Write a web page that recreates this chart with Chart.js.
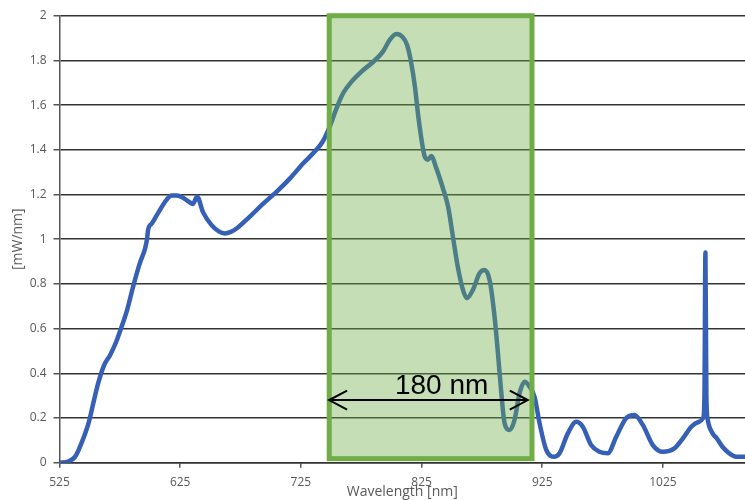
<!DOCTYPE html>
<html>
<head>
<meta charset="utf-8">
<script src="https://cdn.jsdelivr.net/npm/chart.js@4/dist/chart.umd.min.js"></script>
<style>
  body { margin: 0; background: #ffffff; }
  canvas { display: block; }
</style>
</head>
<body>
<canvas id="grafica" width="745" height="500"></canvas>
<script>
const longitudOnda = [
  525, 532, 538, 543, 549, 553, 557, 562, 567, 572, 576.5, 581, 586, 591.5, 596, 597.5, 598.5,
  601.5, 607, 613.5, 618, 622, 627, 632, 635.5, 639, 644, 651, 657, 662, 667, 672, 682.5, 694,
  705, 716, 727, 736.5, 743, 749, 754.5, 760, 767, 775, 785, 793, 798.5, 804, 809, 813, 816.5,
  819.5, 822, 825, 827.5, 830.3, 833, 837.2, 842.7, 847, 851, 855, 859.3, 862.6, 867.5, 873,
  877.2, 881.4, 885.5, 888.3, 891.1, 893.8, 898, 902, 906.2, 910.4, 914.5, 918.6, 922.8, 928.3,
  935.2, 939.3, 946.2, 953.1, 958.6, 965.5, 972.4, 979.3, 986.3, 994.5, 1001.4, 1008.3, 1016.6,
  1024.8, 1034.5, 1042, 1048.5, 1055, 1058.3, 1059.4, 1060.2, 1061, 1062.2, 1066.2, 1069.5,
  1074.5, 1080, 1085.6, 1093
];
const potencia = [
  0, 0.005, 0.027, 0.085, 0.176, 0.266, 0.355, 0.437, 0.482, 0.541, 0.609, 0.683, 0.788, 0.892, 0.96, 1.0, 1.045,
  1.07, 1.12, 1.175, 1.195, 1.195, 1.187, 1.168, 1.158, 1.19, 1.12, 1.063, 1.035, 1.026, 1.033, 1.049, 1.10, 1.16,
  1.213, 1.272, 1.34, 1.392, 1.436, 1.505, 1.585, 1.653, 1.705, 1.749, 1.794, 1.839, 1.891, 1.918, 1.906, 1.869, 1.787,
  1.682, 1.563, 1.444, 1.372, 1.356, 1.372, 1.318, 1.228, 1.145, 1.011, 0.877, 0.773, 0.736, 0.773, 0.847,
  0.862, 0.817, 0.653, 0.489, 0.311, 0.176, 0.146, 0.191, 0.311, 0.362, 0.34, 0.295, 0.176, 0.057,
  0.027, 0.042, 0.131, 0.183, 0.161, 0.079, 0.049, 0.042, 0.116, 0.199, 0.213, 0.169, 0.079,
  0.049, 0.064, 0.112, 0.161, 0.183, 0.2, 0.3, 0.94, 0.3, 0.19, 0.131, 0.11,
  0.07, 0.042, 0.027, 0.027
];
const ticksX = [525, 625, 725, 825, 925, 1025];
const ticksY = ['0', '0.2', '0.4', '0.6', '0.8', '1', '1.2', '1.4', '1.6', '1.8', '2'];

// Banda resaltada (en unidades de datos)
const bandaInicio = 748.5, bandaFin = 916.5;
const bandaArriba = 2.0, bandaAbajo = 0.018;
const flechaY = 0.28, flechaInicio = 748.4, flechaFin = 913;
const textoBanda = '180 nm';
const textoX = 841.6, textoY = 0.307;

// Plugin para dibujar la banda verde, la flecha y el texto
const pluginBanda = {
  id: 'banda',
  afterDatasetsDraw(chart) {
    const ctx = chart.ctx;
    const sx = chart.scales.x, sy = chart.scales.y;
    const x1 = sx.getPixelForValue(bandaInicio), x2 = sx.getPixelForValue(bandaFin);
    const y1 = sy.getPixelForValue(bandaArriba), y2 = sy.getPixelForValue(bandaAbajo);
    ctx.save();
    ctx.fillStyle = 'rgba(112, 173, 71, 0.4)';
    ctx.fillRect(x1, y1, x2 - x1, y2 - y1);
    ctx.strokeStyle = '#70ad47';
    ctx.lineWidth = 5;
    ctx.strokeRect(x1, y1, x2 - x1, y2 - y1);

    // flecha doble
    const ay = sy.getPixelForValue(flechaY);
    const ax1 = sx.getPixelForValue(flechaInicio), ax2 = sx.getPixelForValue(flechaFin);
    ctx.strokeStyle = '#000000';
    ctx.lineWidth = 2;
    ctx.beginPath();
    ctx.moveTo(ax1, ay); ctx.lineTo(ax2, ay);
    ctx.moveTo(ax1 + 18, ay - 9.5); ctx.lineTo(ax1, ay); ctx.lineTo(ax1 + 18, ay + 9.5);
    ctx.moveTo(ax2 - 18, ay - 9.5); ctx.lineTo(ax2, ay); ctx.lineTo(ax2 - 18, ay + 9.5);
    ctx.stroke();

    ctx.fillStyle = '#000000';
    ctx.font = '28px "Liberation Sans", Arial, sans-serif';
    ctx.textAlign = 'center';
    ctx.textBaseline = 'alphabetic';
    ctx.fillText(textoBanda, sx.getPixelForValue(textoX), sy.getPixelForValue(textoY));
    ctx.restore();
  }
};

const puntos = longitudOnda.map((x, i) => ({ x: x, y: potencia[i] }));

new Chart(document.getElementById('grafica'), {
  type: 'line',
  data: {
    datasets: [{
      data: puntos,
      borderColor: '#3560b5',
      borderWidth: 4.5,
      pointRadius: 0,
      cubicInterpolationMode: 'monotone',
      borderCapStyle: 'round',
      borderJoinStyle: 'round',
      fill: false
    }]
  },
  options: {
    responsive: false,
    animation: false,
    layout: { padding: { top: 15.7, right: 0, left: 0, bottom: 0 } },
    plugins: {
      legend: { display: false },
      tooltip: { enabled: false }
    },
    scales: {
      x: {
        type: 'linear',
        min: 525,
        max: 1093,
        afterBuildTicks: (scale) => { scale.ticks = ticksX.map(v => ({ value: v })); },
        afterFit: (scale) => { scale.height = 37.3; },
        grid: { drawOnChartArea: false, tickLength: 5, tickColor: '#555555', lineWidth: 1.5 },
        border: { color: '#333333', width: 1.5 },
        ticks: {
          color: '#595959',
          padding: 8,
          maxRotation: 0,
          font: { family: '"Open Sans", sans-serif', size: 12 },
          callback: (v) => String(v)
        },
        title: {
          display: true,
          text: 'Wavelength [nm]',
          color: '#595959',
          padding: 0,
          font: { family: '"Open Sans", sans-serif', size: 14 }
        }
      },
      y: {
        min: 0,
        max: 2,
        afterFit: (scale) => { scale.width = 59.5; },
        ticks: {
          stepSize: 0.2,
          color: '#595959',
          padding: 7,
          font: { family: '"Open Sans", sans-serif', size: 12 },
          callback: (v, i) => ticksY[i]
        },
        grid: { color: '#333333', lineWidth: 1.5, tickLength: 6, tickColor: '#555555' },
        border: { color: '#555555', width: 1.5 },
        title: {
          display: true,
          text: '[mW/nm]',
          color: '#595959',
          padding: { top: 10, bottom: 0 },
          font: { family: '"Open Sans", sans-serif', size: 14 }
        }
      }
    }
  },
  plugins: [pluginBanda]
});
</script>
</body>
</html>
